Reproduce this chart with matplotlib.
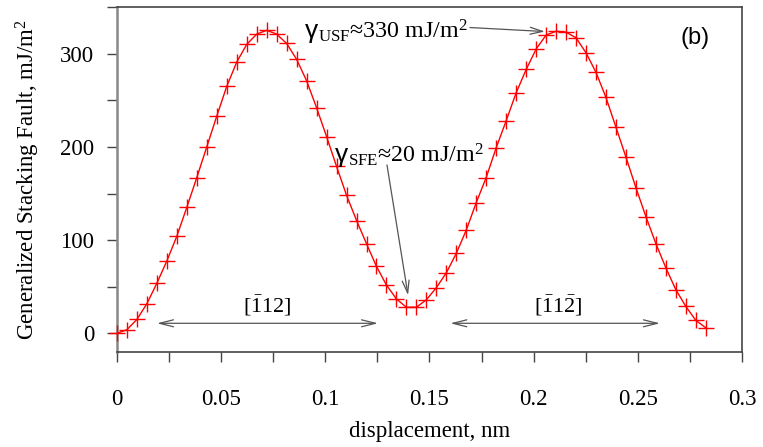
import numpy as np
import matplotlib
matplotlib.use('Agg')
import matplotlib.pyplot as plt
from matplotlib.ticker import MultipleLocator, FormatStrFormatter
from matplotlib.transforms import offset_copy

plt.rcParams['font.family'] = ['Liberation Serif', 'DejaVu Serif']
plt.rcParams['mathtext.fontset'] = 'custom'
plt.rcParams['mathtext.rm'] = 'Liberation Serif'
plt.rcParams['mathtext.it'] = 'Liberation Serif:italic'

# displacement (nm) and GSF energy (mJ/m^2)
disp = [0.0, 0.0048, 0.0096, 0.0144, 0.0192, 0.0240, 0.0287, 0.0335, 0.0383, 0.0431,
        0.0479, 0.0527, 0.0575, 0.0623, 0.0671, 0.0719, 0.0766, 0.0814, 0.0862, 0.0910,
        0.0958, 0.1006, 0.1054, 0.1102, 0.1150, 0.1198, 0.1245, 0.1293, 0.1341, 0.1389,
        0.1437, 0.1485, 0.1533, 0.1581, 0.1629, 0.1677, 0.1724, 0.1772, 0.1820, 0.1868,
        0.1916, 0.1964, 0.2012, 0.2060, 0.2108, 0.2156, 0.2203, 0.2251, 0.2299, 0.2347,
        0.2395, 0.2443, 0.2491, 0.2539, 0.2587, 0.2635, 0.2682, 0.2730, 0.2778, 0.2826]
gsf = [0, 4, 15, 32, 54, 78, 104, 135, 167, 200,
       233, 265, 291, 310, 321, 325, 321, 311, 294, 271,
       242, 211, 179, 148, 121, 96, 72, 52, 37, 28,
       28, 36, 49, 65, 86, 111, 140, 167, 199, 228,
       258, 283, 305, 320, 324, 323, 317, 301, 280, 253,
       221, 189, 156, 125, 96, 70, 47, 29, 14, 6]

fig = plt.figure(figsize=(7.63, 4.47), dpi=100)
ax = fig.add_axes([0.1533, 0.2125, 0.8192, 0.7718])

ax.plot(disp, gsf, color='red', lw=1.0, marker='+', markersize=11,
        markeredgewidth=1.0, clip_on=False, zorder=3)

ax.set_xlim(0, 0.3)
ax.set_ylim(-20, 350)
ax.xaxis.set_major_locator(MultipleLocator(0.05))
ax.xaxis.set_minor_locator(MultipleLocator(0.025))
ax.yaxis.set_major_locator(MultipleLocator(100))
ax.yaxis.set_minor_locator(MultipleLocator(50))
ax.xaxis.set_major_formatter(FormatStrFormatter('%g'))
ax.set_yticks([0, 100, 200, 300])

ax.tick_params(axis='both', which='both', direction='out', length=7.5, width=1.0,
               color='#444444', top=False, right=False, labelsize=16.5)
ax.tick_params(axis='x', pad=19)
ax.tick_params(axis='y', pad=9)

for s in ax.spines.values():
    s.set_color('#444444')
    s.set_linewidth(1.2)
ax.spines['left'].set_color('#888888')
ax.spines['left'].set_linewidth(1.8)

ax.set_xlabel('displacement, nm', fontsize=16.5, labelpad=8)
ax.set_ylabel('Generalized Stacking Fault, mJ/m$^2$', fontsize=16.5, labelpad=13)

sans = ['Liberation Sans', 'DejaVu Sans']
arr = dict(arrowstyle='->,head_length=0.9,head_width=0.25', color='#555555',
           lw=0.9, shrinkA=0, shrinkB=0)
ax.annotate('', xy=(0.2054, 323.7), xytext=(0.1694, 328), arrowprops=arr)
ax.text(0.0902, 317, 'γ', fontsize=19, ha='left', va='baseline', family=sans)
ax.text(0.0902, 317, r'$_{\mathrm{USF}}$≈330 mJ/m$^2$', fontsize=17.3, ha='left', va='baseline',
        transform=offset_copy(ax.transData, fig=fig, x=13, y=0, units='dots'))

ax.annotate('', xy=(0.1397, 40.9), xytext=(0.1296, 180.6), arrowprops=arr)
ax.text(0.1046, 184, 'γ', fontsize=19, ha='left', va='baseline', family=sans)
ax.text(0.1046, 184, r'$_{\mathrm{SFE}}$≈20 mJ/m$^2$', fontsize=17.3, ha='left', va='baseline',
        transform=offset_copy(ax.transData, fig=fig, x=13, y=0, units='dots'))

darr = dict(arrowstyle='<->,head_length=1.0,head_width=0.25', color='#555555',
            lw=0.9, shrinkA=0, shrinkB=0)
ax.annotate('', xy=(0.0192, 10.8), xytext=(0.1253, 10.8), arrowprops=darr)
ax.annotate('', xy=(0.1600, 10.8), xytext=(0.2606, 10.8), arrowprops=darr)
ax.text(0.0722, 16, r'$[\bar{1}12]$', fontsize=16, ha='center', va='bottom')
ax.text(0.2117, 16, r'$[\bar{1}1\bar{2}]$', fontsize=16, ha='center', va='bottom')

ax.text(0.925, 0.91, '(b)', transform=ax.transAxes, fontsize=17, ha='center', va='center',
        family=sans)

fig.savefig('out.png', dpi=100)
